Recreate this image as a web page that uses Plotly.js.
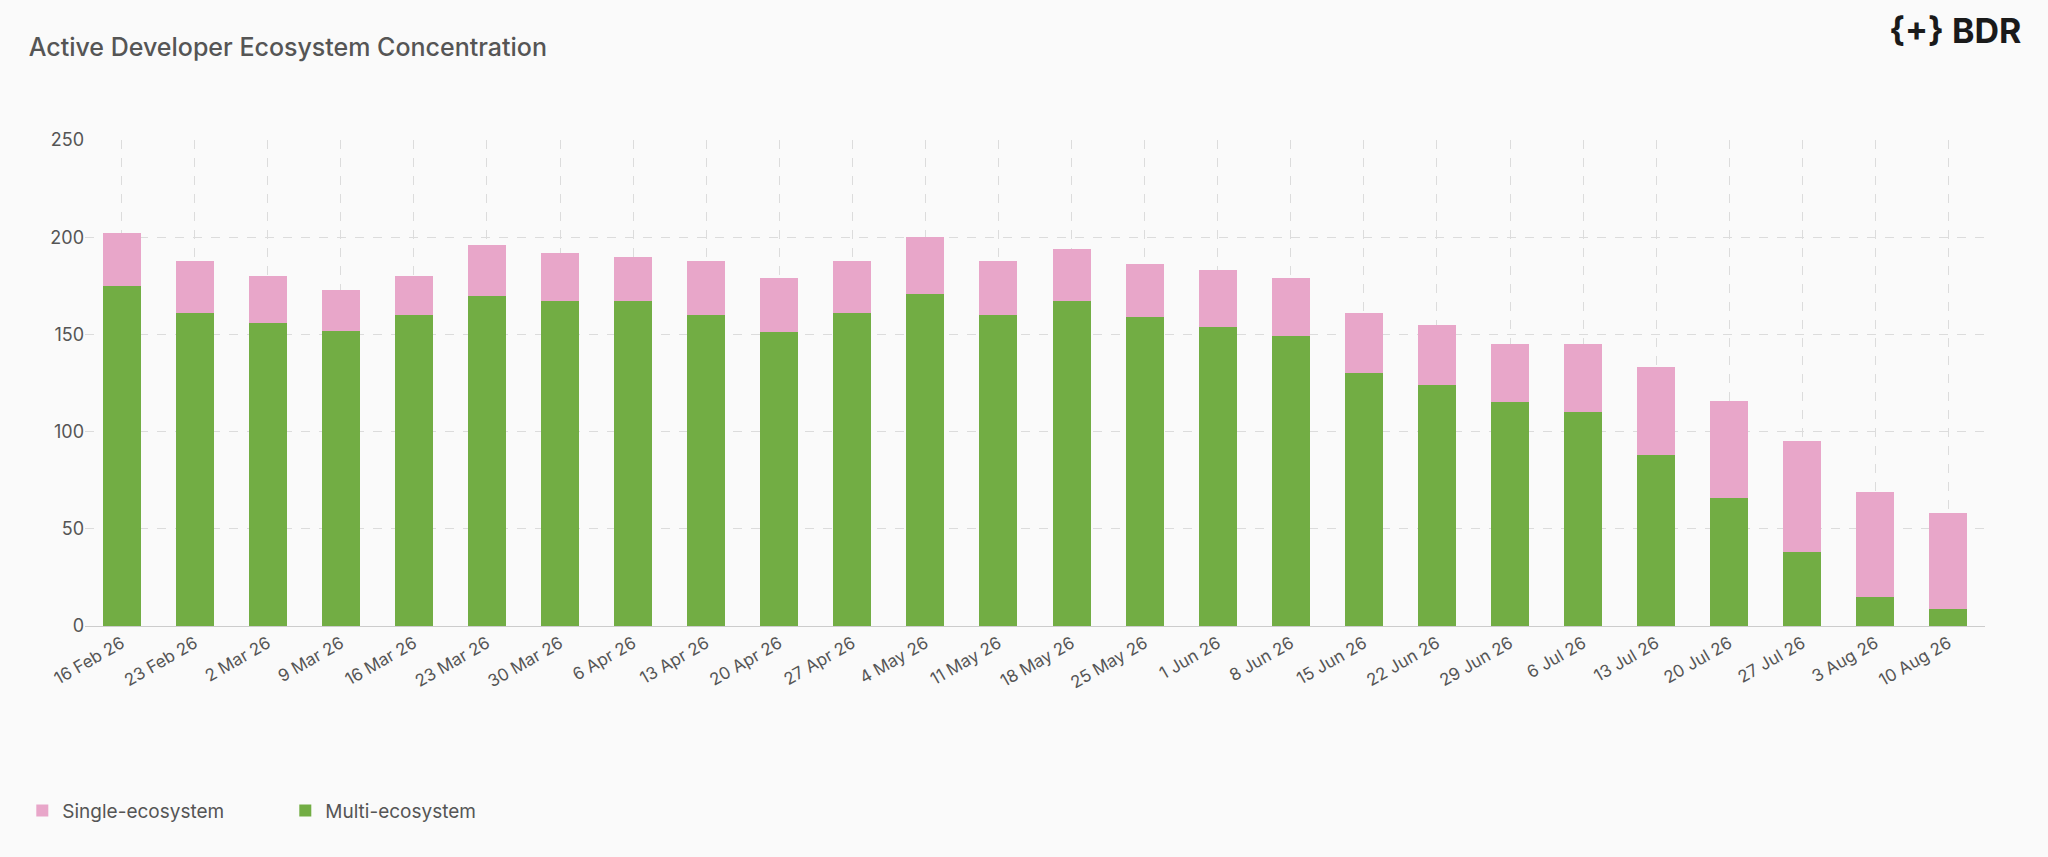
<!DOCTYPE html>
<html>
<head>
<meta charset="utf-8">
<script src="https://cdn.plot.ly/plotly-3.0.1.min.js"></script>
<style>
  html, body { margin: 0; padding: 0; background: #fafafa; }
  #chart { width: 2048px; height: 857px; }
</style>
</head>
<body>
<div id="chart"></div>
<script>
// Weekly buckets
const weeks = ['16 Feb 26', '23 Feb 26', '2 Mar 26', '9 Mar 26', '16 Mar 26', '23 Mar 26',
  '30 Mar 26', '6 Apr 26', '13 Apr 26', '20 Apr 26', '27 Apr 26', '4 May 26', '11 May 26',
  '18 May 26', '25 May 26', '1 Jun 26', '8 Jun 26', '15 Jun 26', '22 Jun 26', '29 Jun 26',
  '6 Jul 26', '13 Jul 26', '20 Jul 26', '27 Jul 26', '3 Aug 26', '10 Aug 26'];

const multiEco = [175, 161, 156, 152, 160, 170, 167, 167, 160, 151, 161, 171, 160,
  167, 159, 154, 149, 130, 124, 115, 110, 88, 66, 38, 15, 9];

const singleEco = [27, 27, 24, 21, 20, 26, 25, 23, 28, 28, 27, 29, 28,
  27, 27, 29, 30, 31, 31, 30, 35, 45, 50, 57, 54, 49];

const FONT = "Inter, 'Open Sans', sans-serif";
const GRID = '#dcdcdc';

const traces = [
  {
    type: 'bar', name: 'Multi-ecosystem', x: weeks, y: multiEco,
    marker: { color: '#72ad44' },
    hovertemplate: '%{x}<br>Multi-ecosystem: %{y}<extra></extra>',
  },
  {
    type: 'bar', name: 'Single-ecosystem', x: weeks, y: singleEco,
    marker: { color: '#e8a6c9' },
    hovertemplate: '%{x}<br>Single-ecosystem: %{y}<extra></extra>',
  },
];

const layout = {
  width: 2048, height: 857,
  paper_bgcolor: '#fafafa', plot_bgcolor: '#fafafa',
  font: { family: FONT, color: '#555', size: 17 },
  barmode: 'stack', bargap: 0.48,
  margin: { l: 85, r: 63, t: 140, b: 231 },
  title: {
    text: 'Active Developer Ecosystem Concentration',
    x: 0.014, xanchor: 'left', y: 0.945, yanchor: 'middle',
    font: { family: FONT, size: 25, color: '#555', weight: 500 },
  },
  xaxis: {
    tickangle: -30, tickfont: { size: 17, color: '#555' },
    showgrid: true, gridcolor: GRID, griddash: 'dash',
    showline: true, linecolor: '#ccc', ticks: '',
  },
  yaxis: {
    range: [0, 250], dtick: 50, tickfont: { size: 18, color: '#555' },
    showgrid: true, gridcolor: GRID, griddash: 'dash', zeroline: false,
    ticks: '',
  },
  showlegend: true,
  legend: {
    orientation: 'h', x: -0.033, xanchor: 'left', y: -0.38, yanchor: 'middle',
    traceorder: 'reversed', font: { size: 19, color: '#555' },
    itemwidth: 30, entrywidth: 218, bgcolor: 'rgba(0,0,0,0)',
  },
  annotations: [{
    text: '<b>{+} BDR</b>', xref: 'paper', yref: 'paper',
    x: 1.02, xanchor: 'right', y: 1.225, yanchor: 'middle', showarrow: false,
    font: { family: FONT, size: 34, color: '#1a1a1a' },
  }],
};

Plotly.newPlot('chart', traces, layout, { displayModeBar: false, responsive: false });
</script>
</body>
</html>
